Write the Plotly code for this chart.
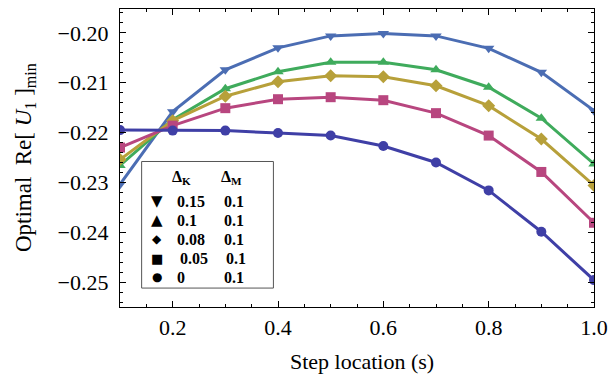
import plotly.graph_objects as go

# ---- data ----
step_location = [0.1, 0.2, 0.3, 0.4, 0.5, 0.6, 0.7, 0.8, 0.9, 1.0]
u_dk015 = [-0.2304, -0.2158, -0.2074, -0.2030, -0.2006, -0.2001, -0.2006, -0.2031, -0.2079, -0.2156]
u_dk010 = [-0.2266, -0.2174, -0.2112, -0.2078, -0.2059, -0.2059, -0.2074, -0.2109, -0.2171, -0.2263]
u_dk008 = [-0.2254, -0.2176, -0.2127, -0.2098, -0.2086, -0.2088, -0.2106, -0.2146, -0.2213, -0.2306]
u_dk005 = [-0.2230, -0.2186, -0.2151, -0.2133, -0.2129, -0.2135, -0.2161, -0.2206, -0.2279, -0.2381]
u_dk000 = [-0.2195, -0.2196, -0.2196, -0.2201, -0.2206, -0.2227, -0.2260, -0.2316, -0.2399, -0.2496]

dk_labels = ["0.15", "0.1", "0.08", "0.05", "0"]
dm_labels = ["0.1", "0.1", "0.1", "0.1", "0.1"]
legend_glyphs = ["▼", "▲", "◆", "■", "●"]

series = [u_dk015, u_dk010, u_dk008, u_dk005, u_dk000]
symbols = ["triangle-down", "triangle-up", "diamond", "square", "circle"]
colors = ["#4b6db3", "#3fab5c", "#b7a03a", "#b8467f", "#3f3fa6"]

SERIF = "Liberation Serif, Times New Roman, serif"

fig = go.Figure()
for ys, sym, col, dk in zip(series, symbols, colors, dk_labels):
    fig.add_trace(go.Scatter(
        x=step_location, y=ys, mode="lines+markers", name=dk,
        line=dict(color=col, width=3),
        marker=dict(symbol=sym, size=10, color=col),
        showlegend=False,
    ))

axis_common = dict(
    showline=True, linecolor="black", linewidth=1.2, mirror="ticks",
    ticks="inside", tickcolor="black", showgrid=False, zeroline=False,
    tickfont=dict(family=SERIF, size=22, color="black"),
)

fig.update_xaxes(range=[0.1, 1.0], tick0=0.2, dtick=0.2, tickformat=".1f",
                 ticklen=6, tickwidth=1.2,
                 minor=dict(ticks="inside", dtick=0.05, tick0=0.0, ticklen=3, tickcolor="black"),
                 **axis_common)
fig.update_yaxes(range=[-0.255, -0.1952], tick0=-0.2, dtick=0.01, tickformat=".2f",
                 ticklen=6, tickwidth=1.2, ticklabelstandoff=6,
                 minor=dict(ticks="inside", dtick=0.002, tick0=-0.2, ticklen=3, tickcolor="black"),
                 **axis_common)

L, R, T, B = 120, 14, 8, 71
W, H = 616, 378
pw, ph = W - L - R, H - T - B

def px(x):
    return (x - L) / pw

def py(y):
    return (H - B - y) / ph

# legend box
fig.add_shape(type="rect", xref="paper", yref="paper",
              x0=px(142), x1=px(276), y0=py(288), y1=py(161),
              line=dict(color="#555555", width=1), fillcolor="white", layer="above")

lf = dict(family=SERIF, size=16, color="black")
fig.add_annotation(xref="paper", yref="paper", x=px(183), y=py(177), text="<b>Δ<sub>K</sub></b>",
                   showarrow=False, font=lf, xanchor="center", yanchor="middle")
fig.add_annotation(xref="paper", yref="paper", x=px(233), y=py(177), text="<b>Δ<sub>M</sub></b>",
                   showarrow=False, font=lf, xanchor="center", yanchor="middle")
row_y = [201, 220, 239, 258, 277]
glyph_sizes = [15, 15, 12, 13, 12]
for i, (g, dk, dm) in enumerate(zip(legend_glyphs, dk_labels, dm_labels)):
    fig.add_annotation(xref="paper", yref="paper", x=px(158), y=py(row_y[i]), text=g,
                       showarrow=False, font=dict(family="DejaVu Sans", size=glyph_sizes[i], color="black"),
                       xanchor="center", yanchor="middle")
    fig.add_annotation(xref="paper", yref="paper", x=px(176 if i != 3 else 179), y=py(row_y[i]),
                       text=f"<b>{dk}</b>", showarrow=False, font=lf, xanchor="left", yanchor="middle")
    fig.add_annotation(xref="paper", yref="paper", x=px(224 if i != 3 else 226), y=py(row_y[i]),
                       text=f"<b>{dm}</b>", showarrow=False, font=lf, xanchor="left", yanchor="middle")

# axis titles
fig.add_annotation(xref="paper", yref="paper", x=px(366), y=py(362), text="Step location (s)",
                   showarrow=False, font=dict(family=SERIF, size=22, color="black"),
                   xanchor="center", yanchor="middle")
fig.add_annotation(xref="paper", yref="paper", x=px(23), y=py(157),
                   text="Optimal  Re[ <i>U</i><sub>1</sub> ]<sub>min</sub>",
                   showarrow=False, font=dict(family=SERIF, size=23, color="black"),
                   textangle=-90, xanchor="center", yanchor="middle")

fig.update_layout(
    width=W, height=H, margin=dict(l=L, r=R, t=T, b=B),
    paper_bgcolor="white", plot_bgcolor="white",
)

fig.write_html("out.html")
